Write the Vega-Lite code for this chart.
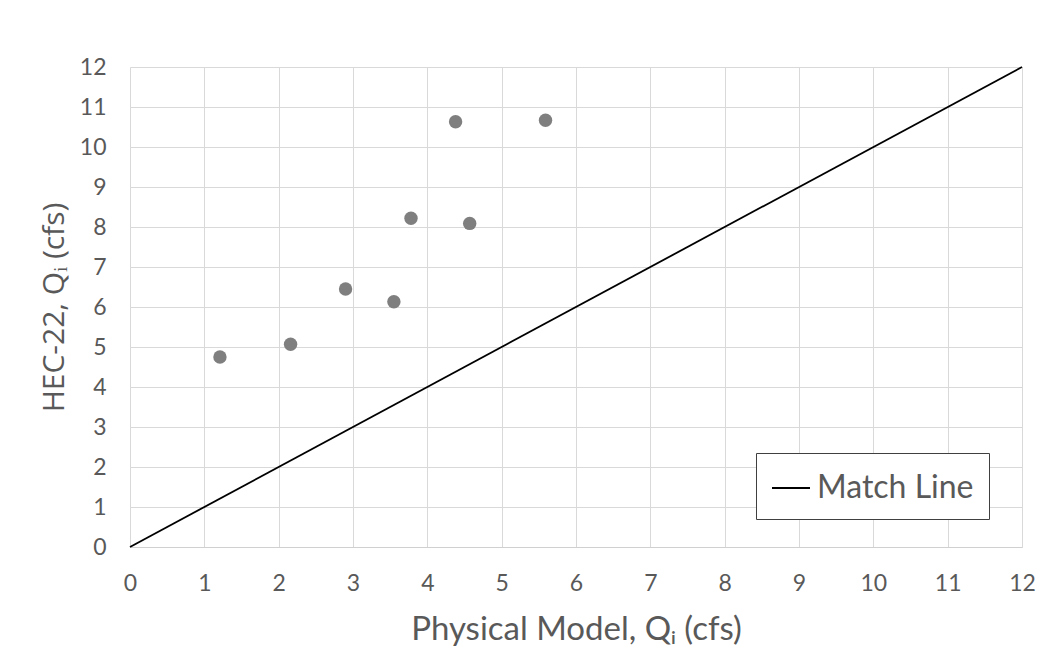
{
  "$schema": "https://vega.github.io/schema/vega-lite/v6.json",
  "autosize": "none",
  "width": 892,
  "height": 480,
  "padding": {"left": 130, "top": 67, "right": 27, "bottom": 113},
  "background": "white",
  "datasets": {
    "points": [
      {"physical": 1.21, "hec22": 4.75},
      {"physical": 2.16, "hec22": 5.07},
      {"physical": 2.90, "hec22": 6.45},
      {"physical": 3.55, "hec22": 6.13},
      {"physical": 3.78, "hec22": 8.22},
      {"physical": 4.38, "hec22": 10.63},
      {"physical": 4.57, "hec22": 8.09},
      {"physical": 5.59, "hec22": 10.67}
    ],
    "match": [
      {"physical": 0, "hec22": 0, "series": "Match Line"},
      {"physical": 12, "hec22": 12, "series": "Match Line"}
    ]
  },
  "encoding": {
    "x": {
      "field": "physical", "type": "quantitative",
      "scale": {"domain": [0, 12], "nice": false},
      "axis": {
        "title": "Physical Model,  Qᵢ (cfs)",
        "values": [0,1,2,3,4,5,6,7,8,9,10,11,12],
        "format": "d"
      }
    },
    "y": {
      "field": "hec22", "type": "quantitative",
      "scale": {"domain": [0, 12], "nice": false},
      "axis": {
        "title": "HEC-22, Qᵢ (cfs)",
        "values": [0,1,2,3,4,5,6,7,8,9,10,11,12],
        "format": "d"
      }
    }
  },
  "layer": [
    {
      "data": {"name": "points"},
      "mark": {"type": "circle", "size": 180, "color": "#7f7f7f", "opacity": 1}
    },
    {
      "data": {"name": "match"},
      "mark": {"type": "line", "strokeWidth": 1.8},
      "encoding": {
        "color": {
          "field": "series", "type": "nominal",
          "scale": {"range": ["#000000"]},
          "legend": {
            "title": null,
            "orient": "none",
            "legendX": 626,
            "legendY": 386,
            "symbolType": "stroke",
            "symbolSize": 1444,
            "symbolStrokeWidth": 2,
            "labelFont": "Lato",
            "labelFontSize": 32,
            "labelColor": "#595959",
            "labelLimit": 400,
            "labelOffset": 6,
            "padding": 15,
            "strokeColor": "#404040",
            "fillColor": "white"
          }
        }
      }
    }
  ],
  "config": {
    "view": {"stroke": null},
    "axis": {
      "grid": true,
      "gridColor": "#d9d9d9",
      "gridWidth": 1,
      "ticks": false,
      "domain": false,
      "labelOverlap": false,
      "labelFlush": false,
      "labelFont": "Lato",
      "labelFontSize": 23,
      "labelColor": "#595959",
      "titleColor": "#595959",
      "titleFontWeight": "normal"
    },
    "axisX": {
      "domain": true,
      "domainColor": "#d0d0d0",
      "labelPadding": 25,
      "titleFont": "Lato",
      "titleFontSize": 33,
      "titlePadding": 18
    },
    "axisY": {
      "labelPadding": 24,
      "titleFont": "Open Sans",
      "titleFontSize": 30,
      "titlePadding": 10
    }
  }
}
